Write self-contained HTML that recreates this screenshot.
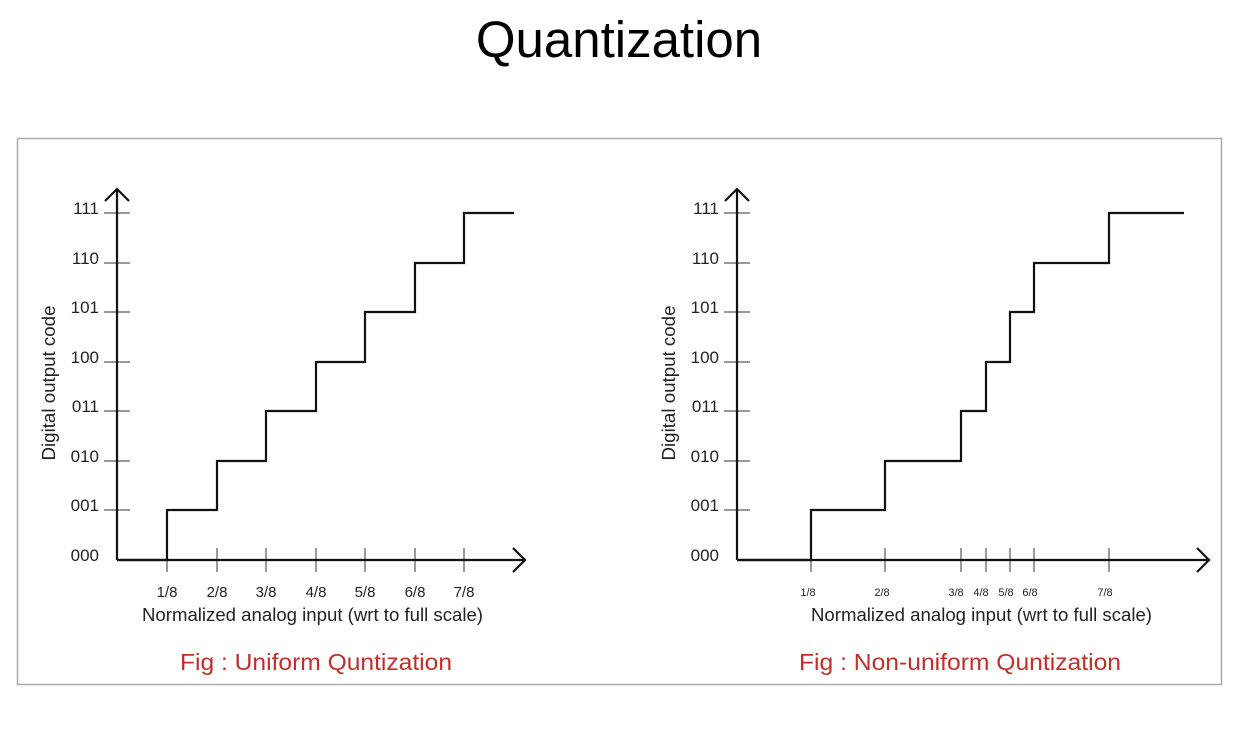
<!DOCTYPE html>
<html><head><style>body{margin:0;background:#fff}</style></head><body>
<svg width="1238" height="734" xmlns="http://www.w3.org/2000/svg" font-family="Liberation Sans, Arial, sans-serif">
<text x="619" y="57" font-size="51" text-anchor="middle" fill="#000">Quantization</text>
<rect x="17.5" y="138.5" width="1204" height="546" fill="none" stroke="#aaa" stroke-width="1.5"/>
<g>
<g stroke="#999" stroke-width="2">
<line x1="104" x2="130" y1="213" y2="213"/><line x1="104" x2="130" y1="263" y2="263"/><line x1="104" x2="130" y1="312" y2="312"/><line x1="104" x2="130" y1="362" y2="362"/><line x1="104" x2="130" y1="411" y2="411"/><line x1="104" x2="130" y1="461" y2="461"/><line x1="104" x2="130" y1="510" y2="510"/>
<line x1="167" x2="167" y1="548" y2="572"/><line x1="217" x2="217" y1="548" y2="572"/><line x1="266" x2="266" y1="548" y2="572"/><line x1="316" x2="316" y1="548" y2="572"/><line x1="365" x2="365" y1="548" y2="572"/><line x1="415" x2="415" y1="548" y2="572"/><line x1="464" x2="464" y1="548" y2="572"/>
</g>
<g stroke="#111" stroke-width="2.2" fill="none">
<polyline points="117,560 117,189"/><polyline points="105,201 117,189 129,201"/>
<polyline points="117,560 525,560"/><polyline points="513,548 525,560 513,572"/>
<polyline points="117,560 167,560 167,510 217,510 217,461 266,461 266,411 316,411 316,362 365,362 365,312 415,312 415,263 464,263 464,213 514,213"/>
</g>
<g font-size="17" text-anchor="end" fill="#222">
<text x="99" y="214">111</text><text x="99" y="264">110</text><text x="99" y="313">101</text><text x="99" y="363">100</text><text x="99" y="412">011</text><text x="99" y="462">010</text><text x="99" y="511">001</text><text x="99" y="561">000</text>
</g>
<g font-size="15" text-anchor="middle" fill="#222">
<text x="167" y="597">1/8</text><text x="217" y="597">2/8</text><text x="266" y="597">3/8</text><text x="316" y="597">4/8</text><text x="365" y="597">5/8</text><text x="415" y="597">6/8</text><text x="464" y="597">7/8</text>
</g>
<text x="142" y="621" font-size="18.5" textLength="341" lengthAdjust="spacingAndGlyphs" fill="#222">Normalized analog input (wrt to full scale)</text>
<text transform="translate(55,383) rotate(-90)" font-size="18" text-anchor="middle" textLength="155" lengthAdjust="spacingAndGlyphs" fill="#222">Digital output code</text>
<text x="180" y="670" font-size="23.5" textLength="272" lengthAdjust="spacingAndGlyphs" fill="#c0302a">Fig : Uniform Quntization</text>
</g>
<g>
<g stroke="#999" stroke-width="2">
<line x1="724" x2="750" y1="213" y2="213"/><line x1="724" x2="750" y1="263" y2="263"/><line x1="724" x2="750" y1="312" y2="312"/><line x1="724" x2="750" y1="362" y2="362"/><line x1="724" x2="750" y1="411" y2="411"/><line x1="724" x2="750" y1="461" y2="461"/><line x1="724" x2="750" y1="510" y2="510"/>
<line x1="811" x2="811" y1="548" y2="572"/><line x1="885" x2="885" y1="548" y2="572"/><line x1="961" x2="961" y1="548" y2="572"/><line x1="986" x2="986" y1="548" y2="572"/><line x1="1010" x2="1010" y1="548" y2="572"/><line x1="1034" x2="1034" y1="548" y2="572"/><line x1="1109" x2="1109" y1="548" y2="572"/>
</g>
<g stroke="#111" stroke-width="2.2" fill="none">
<polyline points="737,560 737,189"/><polyline points="725,201 737,189 749,201"/>
<polyline points="737,560 1209,560"/><polyline points="1197,548 1209,560 1197,572"/>
<polyline points="737,560 811,560 811,510 885,510 885,461 961,461 961,411 986,411 986,362 1010,362 1010,312 1034,312 1034,263 1109,263 1109,213 1184,213"/>
</g>
<g font-size="17" text-anchor="end" fill="#222">
<text x="719" y="214">111</text><text x="719" y="264">110</text><text x="719" y="313">101</text><text x="719" y="363">100</text><text x="719" y="412">011</text><text x="719" y="462">010</text><text x="719" y="511">001</text><text x="719" y="561">000</text>
</g>
<g font-size="11" text-anchor="middle" fill="#222">
<text x="808" y="596">1/8</text><text x="882" y="596">2/8</text><text x="956" y="596">3/8</text><text x="981" y="596">4/8</text><text x="1006" y="596">5/8</text><text x="1030" y="596">6/8</text><text x="1105" y="596">7/8</text>
</g>
<text x="811" y="621" font-size="18.5" textLength="341" lengthAdjust="spacingAndGlyphs" fill="#222">Normalized analog input (wrt to full scale)</text>
<text transform="translate(675,383) rotate(-90)" font-size="18" text-anchor="middle" textLength="155" lengthAdjust="spacingAndGlyphs" fill="#222">Digital output code</text>
<text x="799" y="670" font-size="23.5" textLength="322" lengthAdjust="spacingAndGlyphs" fill="#c0302a">Fig : Non-uniform Quntization</text>
</g>
</svg>
</body></html>
